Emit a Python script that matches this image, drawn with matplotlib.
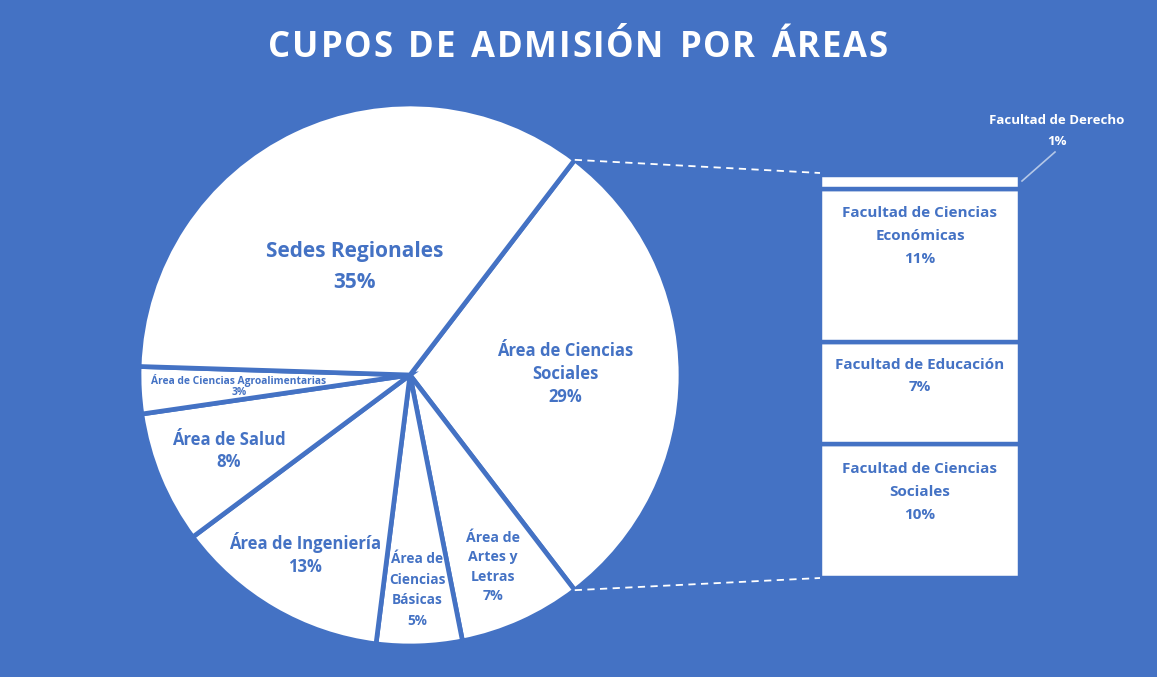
import numpy as np
import matplotlib
matplotlib.use("Agg")
import matplotlib.pyplot as plt

# ---------------- data ----------------
pie_labels = ["Área de Ciencias\nSociales", "Área de\nArtes y\nLetras", "Área de\nCiencias\nBásicas",
              "Área de Ingeniería", "Área de Salud", "Área de Ciencias Agroalimentarias", "Sedes Regionales"]
pie_values = [29.2, 7.3, 5.1, 12.8, 7.9, 2.8, 34.9]

bar_labels = ["Facultad de Ciencias\nSociales", "Facultad de Educación",
              "Facultad de Ciencias\nEconómicas", "Facultad de Derecho"]
bar_values = [9.7, 7.4, 11.1, 1.0]

BG = "#4472C4"
W, H = 1157, 677
plt.rcParams['font.family'] = ['Open Sans', 'DejaVu Sans']

fig = plt.figure(figsize=(W / 100, H / 100), dpi=100, facecolor=BG)
ax = fig.add_axes([0, 0, 1, 1])
ax.set_xlim(0, W)
ax.set_ylim(0, H)
ax.set_aspect('equal')
ax.axis('off')
ax.set_facecolor(BG)

def py(y):  # pixel-from-top -> data y
    return H - y

cx, cy, R = 410, py(375), 271
half = pie_values[0] / sum(pie_values) * 360 / 2
wedges, _ = ax.pie(pie_values, center=(cx, cy), radius=R, startangle=half, counterclock=False,
                   colors=["white"] * len(pie_values),
                   wedgeprops=dict(edgecolor=BG, linewidth=3.4), frame=True)
ax.set_xlim(0, W)
ax.set_ylim(0, H)
ax.axis('off')

total = sum(pie_values)
pcts = [f"{round(v / total * 100)}%" for v in pie_values]

# pie labels: (x, y centre in pixels, fontsize, linespacing)
lab_pos = [(565, 374, 12, 1.35), (493, 567, 10.2, 1.5), (417, 590, 9.8, 1.6),
           (305, 554, 12, 1.35), (229, 451, 12, 1.35), (239, 386, 7.4, 1.1),
           (355, 267, 15, 1.6)]
for lab, pct, (x, y, fs, ls) in zip(pie_labels, pcts, lab_pos):
    ax.text(x, py(y), lab + "\n" + pct, ha='center', va='center', color=BG,
            fontsize=fs, fontweight='bold', linespacing=ls)

# bar of pie
bx0, bx1 = 820, 1020
by0 = py(578)
scale = 403 / sum(bar_values)
bottoms = np.concatenate([[0], np.cumsum(bar_values)[:-1]])
ax.bar([(bx0 + bx1) / 2] * len(bar_values), [v * scale for v in bar_values],
       bottom=[by0 + b * scale for b in bottoms], width=bx1 - bx0,
       color="white", edgecolor=BG, linewidth=3.2)
bar_pcts = [f"{round(v)}%" for v in bar_values]
bar_text_y = [492, 376, 236]
for lab, pct, yc in zip(bar_labels[:3], bar_pcts[:3], bar_text_y):
    ax.text((bx0 + bx1) / 2, py(yc), lab + "\n" + pct, ha='center', va='center', color=BG,
            fontsize=11, fontweight='bold', linespacing=1.78)
# Derecho label outside
top_y = by0 + sum(bar_values) * scale
ax.text(1057, py(131), bar_labels[3] + "\n" + bar_pcts[3], ha='center', va='center', color='white',
        fontsize=9.5, fontweight='bold', linespacing=1.75)
ax.plot([1022, 1055], [top_y - 6, py(152)], color='#B4C7E7', lw=1.2)

# connector dashed lines
a = np.deg2rad(half)
ax.plot([cx + R * np.cos(a), bx0], [cy + R * np.sin(a), top_y + 2], color='white', lw=1.3,
        ls=(0, (4, 3)))
ax.plot([cx + R * np.cos(a), bx0], [cy - R * np.sin(a), by0], color='white', lw=1.3,
        ls=(0, (4, 3)))

# title with letter spacing
title = "CUPOS DE ADMISIÓN POR ÁREAS"
fig.canvas.draw()
renderer = fig.canvas.get_renderer()
fs_t = 25
widths = []
for ch in title:
    t = ax.text(0, 0, ch if ch != " " else "n", fontsize=fs_t, fontweight='bold')
    bb = t.get_window_extent(renderer)
    widths.append(bb.width * (0.55 if ch == " " else 1.0))
    t.remove()
spacing = 1.7
tot = sum(widths) + spacing * (len(title) - 1)
x = (268 + 888) / 2 - tot / 2
for ch, w in zip(title, widths):
    if ch != " ":
        ax.text(x + w / 2, py(48), ch, ha='center', va='center', color='white',
                fontsize=fs_t, fontweight='bold')
    x += w + spacing

fig.savefig("out.png", dpi=100, facecolor=BG)
